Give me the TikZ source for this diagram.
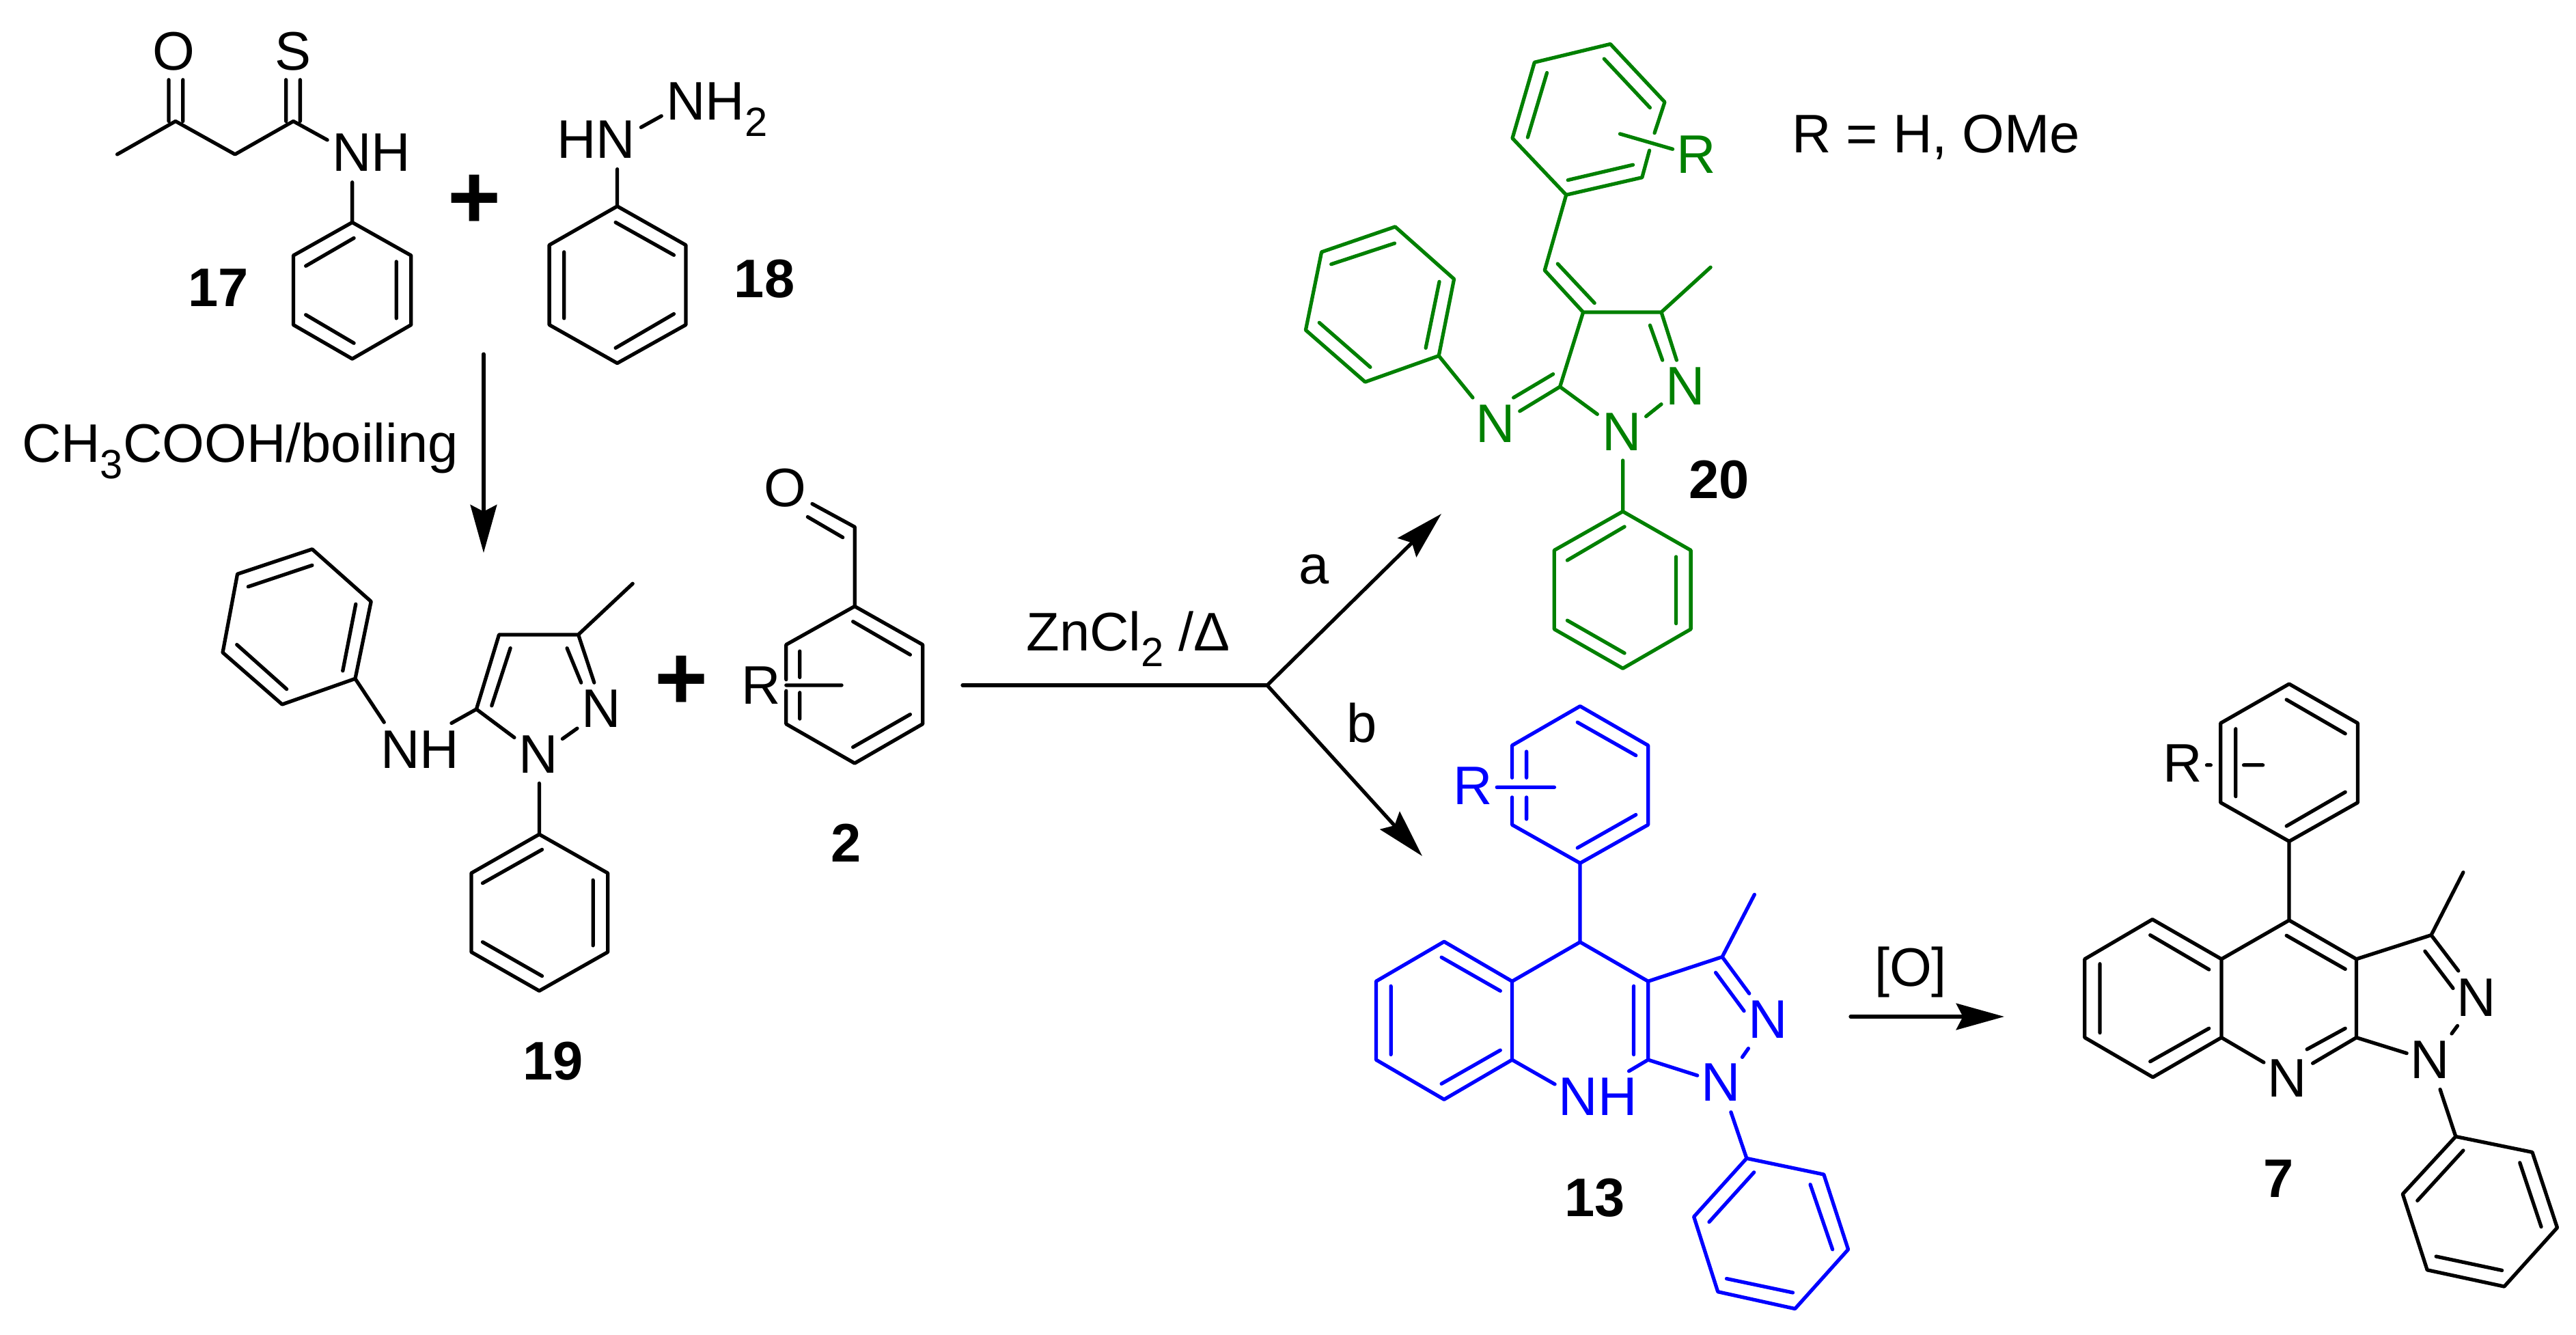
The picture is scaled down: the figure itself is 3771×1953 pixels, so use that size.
\documentclass[tikz,border=0pt]{standalone}
\usepackage{fontspec}
\setmainfont{Liberation Sans}
\usetikzlibrary{arrows.meta}
\newcommand{\fsz}{\fontsize{22.6}{26}\selectfont}
\newcommand{\subn}[1]{\raisebox{-6.7pt}{\fontsize{17}{20}\selectfont #1}}
\definecolor{molgreen}{RGB}{0,128,0}
\definecolor{molblue}{RGB}{0,0,255}
\tikzset{
  bond/.style={line width=1.5pt,line cap=round,line join=round},
  rxn/.style={line width=1.5pt,line cap=round,-{Stealth[length=20pt,width=11pt,inset=2.8pt]}},
  rxnline/.style={line width=1.5pt,line cap=round},
  atom/.style={inner sep=0pt,font=\fsz},
  cpd/.style={inner sep=0pt,text=black,font=\fsz\bfseries},
  plussign/.style={inner sep=0pt,text=black,font=\fontsize{38}{40}\selectfont\bfseries},
  reagent/.style={inner sep=0pt,text=black,font=\fsz,anchor=base west}
}
\begin{document}
\begin{tikzpicture}[x=0.01cm,y=-0.01cm]
\useasboundingbox[fill=white] (0,0) rectangle (3771,1953);

% ---- 17 + 18 (zoom frame 1)
\begin{scope}[shift={(0,0)},x=0.00829cm,y=-0.00638cm]
\draw[bond] (207,354)--(310,278)--(415,354)--(518,278)--(578,321)
  (298,183)--(298,278) (323,183)--(323,278)
  (505,183)--(505,278) (530,183)--(530,278)
  (622,418)--(622,510)
  (622,510)--(726,586)--(726,745)--(622,823)--(518,745)--(518,586)--cycle
  (625,546)--(540,610) (700,600)--(700,730) (625,787)--(540,722);
\node[atom] (o17) at (307,118) {O};
\node[atom] (s17) at (517,118) {S};
\node[atom] (nh17) at (656,350) {NH};
\node[cpd] (lab17) at (386,660) {17};
\node[plussign] (plus1) at (838,462) {+};
\draw[bond] (1132,292)--(1168,266) (1090,388)--(1090,473)
  (1090,473)--(1211,562)--(1211,745)--(1090,833)--(970,745)--(970,562)--cycle
  (1087,510)--(1190,585) (996,578)--(996,730) (1190,720)--(1087,798);
\node[atom] (hn18) at (1053,320) {HN};
\node[atom,anchor=base west] (nh218) at (1176,275) {NH\subn{2}};
\node[cpd] (lab18) at (1350,640) {18};
\node[reagent] (acoh) at (38,1060) {CH\subn{3}COOH/boiling};
\coordinate (va) at (854,812);
\coordinate (vb) at (854,1268);
\draw[rxn] (va)--(vb);
\end{scope}

% ---- 19 + 2 (zoom frame 3)
\begin{scope}[shift={(200,650)},x=0.00829cm,y=-0.00638cm]
\draw[bond] (310,241)--(414,361)--(386,538)--(257,597)--(152,478)--(178,298)--cycle
  (310,278)--(197,327) (387,367)--(364,520) (265,562)--(177,460)
  (386,538)--(437,638) (556,640)--(600,608)
  (600,608)--(640,437)--(780,437)--(808,547)
  (600,608)--(667,673) (752,676)--(778,652)
  (660,468)--(627,600) (760,468)--(785,547)
  (780,437)--(876,320)
  (711,778)--(711,895)
  (711,895)--(832,984)--(832,1165)--(711,1254)--(591,1165)--(591,984)--cycle
  (716,930)--(611,1007) (806,1000)--(806,1150) (716,1220)--(611,1142);
\node[atom] (nh19) at (500,700) {NH};
\node[atom] (n19a) at (820,607) {N};
\node[atom] (n19b) at (709,712) {N};
\node[cpd] (lab19) at (735,1415) {19};
\node[plussign] (plus2) at (962,548) {+};
\draw[bond] (1268,190)--(1193,137) (1247,214)--(1185,167) (1268,190)--(1268,372)
  (1147,540)--(1147,460)--(1268,372)--(1388,460)--(1388,642)--(1268,732)--(1147,642)--(1147,566)
  (1265,407)--(1366,483) (1366,620)--(1265,695)
  (1171,475)--(1171,535) (1171,570)--(1171,630)
  (1147,553)--(1245,553);
\node[atom] (o2) at (1145,100) {O};
\node[atom] (r2) at (1103,553) {R};
\node[cpd] (lab2) at (1253,915) {2};
\end{scope}

% ---- 20 (zoom frame 2)
\begin{scope}[shift={(1700,0)},x=0.00829cm,y=-0.00638cm,color=molgreen]
\draw[bond] (871,305)--(889,234)--(793,101)--(659,143)--(620,317)--(715,447)--(849,407)--(862,345)
  (782,135)--(863,247) (833,378)--(718,413) (647,315)--(681,167)
  (810,307)--(903,342)
  (715,447)--(677,620)--(745,716) (700,605)--(765,695)
  (745,716)--(883,716)--(970,613)
  (883,716)--(910,826) (863,746)--(885,826)
  (883,927)--(856,955)
  (704,887)--(770,950) (745,716)--(704,887)
  (704,887)--(633,943) (692,858)--(622,912)
  (550,912)--(490,816)
  (490,816)--(517,640)--(413,520)--(283,578)--(255,757)--(360,876)--cycle
  (467,798)--(491,646) (412,558)--(300,606) (279,740)--(369,842)
  (815,1056)--(815,1173)
  (815,1173)--(935,1262)--(935,1443)--(815,1533)--(694,1443)--(694,1262)--cycle
  (818,1208)--(717,1285) (909,1277)--(909,1430) (818,1498)--(717,1423);
\node[atom] (r20) at (945,355) {R};
\node[atom] (n20a) at (925,885) {N};
\node[atom] (n20b) at (813,990) {N};
\node[atom] (n20c) at (590,972) {N};
\node[cpd] (lab20) at (985,1100) {20};
\node[reagent] (rdef) at (1113,350) {R = H, OMe};
\end{scope}

% ---- reaction arrows
\coordinate (rs) at (1409,1003);
\coordinate (br) at (1855,1003);
\coordinate (ta) at (2110,752);
\coordinate (tb) at (2082,1253);
\draw[rxnline] (rs)--(br);
\draw[rxn] (br)--(ta);
\draw[rxn] (br)--(tb);
\node[reagent] (zn) at (1502,952) {ZnCl\subn{2} /Δ};
\node[atom,text=black] (la) at (1924,833) {a};
\node[atom,text=black] (lb) at (1994,1058) {b};

% ---- 13 (zoom frame 4)
\begin{scope}[shift={(1800,950)},x=0.00638cm,y=-0.00638cm,color=molblue]
\draw[bond] (648,295)--(648,221)--(804,131)--(960,221)--(960,403)--(804,491)--(648,403)--(648,340)
  (798,168)--(932,244) (932,380)--(798,456)
  (681,235)--(681,295) (681,340)--(681,390)
  (613,317)--(745,317)
  (804,491)--(804,672)
  (804,672)--(648,762)--(492,671)--(336,762)--(336,942)--(492,1033)--(648,942)--(648,762)
  (486,707)--(621,784) (370,773)--(370,930) (486,997)--(621,920)
  (648,942)--(746,998)
  (916,968)--(960,942)--(960,762)--(804,672)
  (927,773)--(927,930)
  (960,762)--(1130,706)--(1204,563)
  (1130,706)--(1192,790) (1115,742)--(1180,830)
  (1176,936)--(1190,916)
  (960,942)--(1073,978)
  (1150,1062)--(1186,1168)
  (1186,1168)--(1363,1205)--(1419,1377)--(1297,1513)--(1120,1474)--(1065,1302)--cycle
  (1332,1228)--(1383,1377) (1292,1476)--(1140,1444) (1100,1314)--(1203,1200);
\node[atom] (r13) at (558,313) {R};
\node[atom] (nh13) at (845,1027) {NH};
\node[atom] (n13a) at (1235,850) {N};
\node[atom] (n13b) at (1127,993) {N};
\node[cpd] (lab13) at (838,1258) {13};
\end{scope}

% ---- [O] arrow
\coordinate (oa) at (2709,1488);
\coordinate (ob) at (2934,1488);
\draw[rxn] (oa)--(ob);
\node[atom,text=black] (oxi) at (2797,1423) {[O]};

% ---- 7 (zoom frame 5)
\begin{scope}[shift={(2750,950)},x=0.00651cm,y=-0.00638cm]
\draw[bond] (922,80)--(1076,170)--(1076,352)--(922,441)--(768,352)--(768,170)--cycle
  (916,116)--(1048,194) (1048,328)--(916,406) (802,183)--(802,338)
  (737,266)--(746,266) (820,266)--(863,266)
  (922,441)--(922,622)
  (922,622)--(770,711)--(615,620)--(463,711)--(463,891)--(616,982)--(770,891)--(770,711)
  (742,735)--(610,656) (497,722)--(497,880) (610,946)--(742,870)
  (770,891)--(865,948)
  (975,950)--(1073,891) (962,918)--(1048,870)
  (922,622)--(1073,711)--(1073,891) (916,657)--(1048,734)
  (1073,711)--(1241,656)--(1313,512)
  (1241,656)--(1302,738) (1227,693)--(1290,778)
  (1287,882)--(1300,864)
  (1073,891)--(1186,927)
  (1261,1010)--(1296,1118)
  (1296,1118)--(1468,1154)--(1524,1327)--(1405,1462)--(1232,1424)--(1177,1250)--cycle
  (1440,1178)--(1488,1325) (1400,1425)--(1252,1393) (1210,1265)--(1313,1150);
\node[atom] (r7) at (683,262) {R};
\node[atom] (n7a) at (918,985) {N};
\node[atom] (n7b) at (1343,800) {N};
\node[atom] (n7c) at (1238,942) {N};
\node[cpd] (lab7) at (898,1215) {7};
\end{scope}
\end{tikzpicture}
\end{document}
